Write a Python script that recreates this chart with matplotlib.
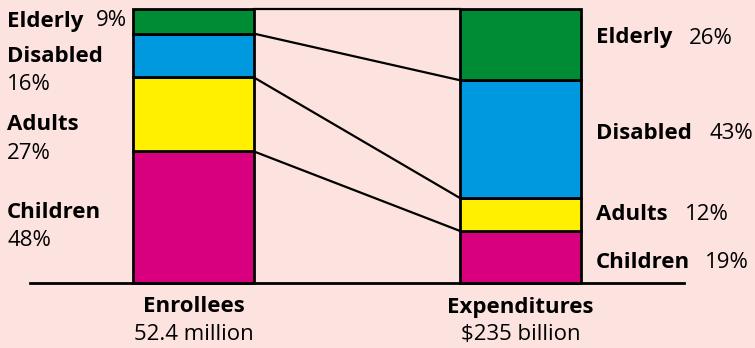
import matplotlib.pyplot as plt
from matplotlib.patches import Rectangle

groups = ["Children", "Adults", "Disabled", "Elderly"]
enrollees = [48, 27, 16, 9]
expenditures = [19, 12, 43, 26]
colors = ["#d8007f", "#fff000", "#0099e0", "#008c35"]
bar_titles = ["Enrollees", "Expenditures"]
bar_totals = ["52.4 million", "$235 billion"]

W, H = 755, 348
bg = "#fde3df"
plt.rcParams["font.family"] = ["Open Sans", "DejaVu Sans"]

fig = plt.figure(figsize=(W / 100, H / 100), dpi=100, facecolor=bg)
ax = fig.add_axes([0, 0, 1, 1])
ax.set_facecolor(bg)
ax.axis("off")

# percent scale: 0 at the baseline, 100 at the top of the bars
scale = 2.74
base = 283
ax.set_xlim(0, W)
ax.set_ylim((base - H) / scale, base / scale)

bar_x = [133, 460]
bar_w = 121


def stack(x, values):
    bottom = 0
    edges = [0]
    for v, c in zip(values, colors):
        ax.add_patch(Rectangle((x, bottom), bar_w, v, facecolor=c,
                               edgecolor="black", lw=2, zorder=3))
        bottom += v
        edges.append(bottom)
    return edges


left_edges = stack(bar_x[0], enrollees)
right_edges = stack(bar_x[1], expenditures)

# connect matching boundaries between the two bars
for a, b in zip(left_edges[1:], right_edges[1:]):
    ax.plot([bar_x[0] + bar_w, bar_x[1]], [a, b], color="black", lw=1.6, zorder=2)

# baseline
ax.plot([30, 684], [0, 0], color="black", lw=2, zorder=4)


def px(x, y):
    return x / W, 1 - y / H


fs = 16
bold = dict(fontsize=fs, fontweight="bold", va="center", ha="left")
reg = dict(fontsize=fs, va="center", ha="left")

# left side labels
fig.text(*px(7, 21), "Elderly", **bold)
fig.text(*px(96, 21), f"{enrollees[3]}%", **reg)
fig.text(*px(7, 57), "Disabled", **bold)
fig.text(*px(7, 84), f"{enrollees[2]}%", **reg)
fig.text(*px(7, 125), "Adults", **bold)
fig.text(*px(7, 153), f"{enrollees[1]}%", **reg)
fig.text(*px(7, 213), "Children", **bold)
fig.text(*px(7, 241), f"{enrollees[0]}%", **reg)

# right side labels
fig.text(*px(596, 38), "Elderly", **bold)
fig.text(*px(689, 38), f"{expenditures[3]}%", **reg)
fig.text(*px(596, 134), "Disabled", **bold)
fig.text(*px(710, 134), f"{expenditures[2]}%", **reg)
fig.text(*px(596, 215), "Adults", **bold)
fig.text(*px(685, 215), f"{expenditures[1]}%", **reg)
fig.text(*px(596, 262), "Children", **bold)
fig.text(*px(705, 262), f"{expenditures[0]}%", **reg)

# bar captions
for x, t, s in zip(bar_x, bar_titles, bar_totals):
    fig.text(*px(x + bar_w / 2, 307), t, fontsize=fs, fontweight="bold",
             ha="center", va="center")
    fig.text(*px(x + bar_w / 2, 334), s, fontsize=fs, ha="center", va="center")

fig.savefig("out.png", dpi=100, facecolor=bg)
